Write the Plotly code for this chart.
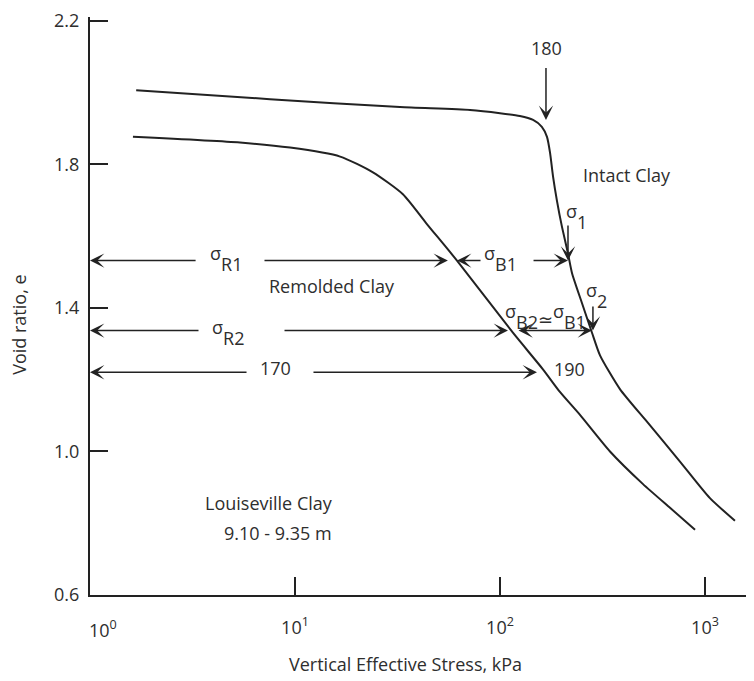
import math
import plotly.graph_objects as go

# ---------------- data ----------------
intact_stress = [1.68, 7.55, 32.5, 71.4, 100, 125, 145, 160, 169.5, 175.4, 181.4, 189.7,
                 200.6, 214.6, 224.6, 251, 281, 307.5, 384.6, 521, 755, 1057, 1400]
intact_e = [2.007, 1.982, 1.960, 1.952, 1.943, 1.935, 1.924, 1.905, 1.877, 1.833, 1.767, 1.698,
            1.626, 1.552, 1.497, 1.414, 1.331, 1.268, 1.174, 1.083, 0.972, 0.870, 0.807]

remolded_stress = [1.62, 5.39, 9.46, 16.6, 24.0, 33.6, 44.0, 61.7, 115.6, 162, 196, 245.6,
                   344, 498.6, 675, 894]
remolded_e = [1.877, 1.861, 1.847, 1.822, 1.778, 1.717, 1.634, 1.532, 1.331, 1.229, 1.166, 1.102,
              1.000, 0.909, 0.843, 0.782]

e1 = 1.532
e2 = 1.337
e170 = 1.221

y_ticks = [0.6, 1.0, 1.4, 1.8, 2.2]
y_ticktext = ["0.6", "1.0", "1.4", "1.8", "2.2"]
x_ticks = [10, 100, 1000]
x_ticktext = ["10<sup>1</sup>", "10<sup>2</sup>", "10<sup>3</sup>"]

# arrows: (tip stress, tip e, tail stress, tail e, double-headed)
arrows = [
    (1, e1, 3.33, e1, False),
    (55.7, e1, 6.98, e1, False),
    (61.7, e1, 81.7, e1, False),
    (214.6, e1, 143.3, e1, False),
    (1, e2, 3.44, e2, False),
    (109.4, e2, 8.74, e2, False),
    (281, e2, 121, e2, True),
    (1, e170, 5.90, e170, False),
    (151.5, e170, 12.1, e170, False),
    (167.6, 1.924, 167.6, 2.073, False),
    (214.6, e1, 214.6, 1.634, False),
    (284, e2, 284, 1.408, False),
]

FS = 18


def sig(sub):
    s = f"<span style='font-size:{FS}px'>"
    return f"<sup>{s}σ</span></sup><sub>{s}{sub}</span></sub>"


# labels: (text, stress, e)
labels = [
    ("180", 169, 2.125),
    (sig("1"), 235, 1.655),
    (sig("2"), 297, 1.434),
    (sig("R1"), 4.61, 1.538),
    (sig("B1"), 100, 1.538),
    (sig("R2"), 4.71, 1.332),
    (sig("B2") + "≃" + sig("B1"), 166, 1.375),
    ("170", 7.99, 1.232),
    ("190", 219, 1.229),
    ("Intact Clay", 417, 1.770),
    ("Remolded Clay", 15.1, 1.461),
    ("Louiseville Clay", 7.47, 0.857),
    ("9.10 - 9.35 m", 8.26, 0.774),
]

FONT = "Open Sans"
TXT = "#2e2e2e"
LINE = "#222222"

fig = go.Figure()
fig.add_trace(go.Scatter(x=intact_stress, y=intact_e, mode="lines",
                         line=dict(color=LINE, width=2, shape="spline", smoothing=0.6),
                         hoverinfo="skip", showlegend=False))
fig.add_trace(go.Scatter(x=remolded_stress, y=remolded_e, mode="lines",
                         line=dict(color=LINE, width=2, shape="spline", smoothing=0.6),
                         hoverinfo="skip", showlegend=False))

ann = []
for tx, ty, sx, sy, both in arrows:
    a = dict(x=math.log10(tx), y=ty, ax=math.log10(sx), ay=sy, xref="x", yref="y",
             axref="x", ayref="y", text="", showarrow=True, arrowhead=3, arrowsize=1.6,
             arrowwidth=1.5, arrowcolor=LINE, standoff=0, startstandoff=0)
    if both:
        a.update(arrowside="end+start", startarrowhead=3, startarrowsize=1.6)
    ann.append(a)

for t, sx, sy in labels:
    ann.append(dict(x=math.log10(sx), y=sy, xref="x", yref="y", text=t, showarrow=False,
                    font=dict(family=FONT, size=FS, color=TXT)))

# e1 / e2 labels on the y axis
for t, yv in [(f"e<sub><span style='font-size:15px'>1</span></sub>", e1),
              (f"e<sub><span style='font-size:15px'>2</span></sub>", e2)]:
    ann.append(dict(x=-0.025, y=yv, xref="x", yref="y", text=t, showarrow=False,
                    xanchor="right", font=dict(family=FONT, size=FS, color=TXT)))

# 10^0 label
ann.append(dict(x=0, y=0.6, xref="x", yref="y", text="10<sup>0</sup>", showarrow=False,
                xshift=13, yshift=-34, font=dict(family=FONT, size=FS, color=TXT)))

# axis titles (paper coords relative to plot area: x 90..754, y 595 bottom, 362.5 px/unit)
PW, PH = 664, 584
ann.append(dict(x=(405 - 90) / PW, y=-(665 - 595) / PH, xref="paper", yref="paper",
                xanchor="center", yanchor="middle",
                text="Vertical Effective Stress, kPa", showarrow=False,
                font=dict(family=FONT, size=FS, color=TXT)))
ann.append(dict(x=-(90 - 19) / PW, y=(595 - 322) / PH, xref="paper", yref="paper",
                xanchor="center", yanchor="middle",
                text="Void ratio, e", showarrow=False, textangle=-90,
                font=dict(family=FONT, size=FS, color=TXT)))

# page body has an 8px margin, so the figure is sized/margined to compensate
fig.update_layout(
    width=746, height=673,
    margin=dict(l=82, r=0, t=3, b=86),
    paper_bgcolor="white", plot_bgcolor="white",
    annotations=ann,
    font=dict(family=FONT, size=FS, color=TXT),
    xaxis=dict(type="log", range=[0, 3.239], showgrid=False, zeroline=False,
               showline=True, linecolor=LINE, linewidth=2,
               ticks="inside", ticklen=18, tickwidth=1.5, tickcolor=LINE,
               tickvals=x_ticks, ticktext=x_ticktext, ticklabelstandoff=15,
               tickfont=dict(family=FONT, size=FS, color=TXT)),
    yaxis=dict(range=[0.6, 0.6 + PH / 362.5], showgrid=False, zeroline=False,
               showline=True, linecolor=LINE, linewidth=2,
               ticks="inside", ticklen=18, tickwidth=1.5, tickcolor=LINE,
               tickvals=y_ticks, ticktext=y_ticktext, ticklabelstandoff=5,
               ticklabeloverflow="allow",
               tickfont=dict(family=FONT, size=FS, color=TXT)),
)

fig.write_html("out.html")
